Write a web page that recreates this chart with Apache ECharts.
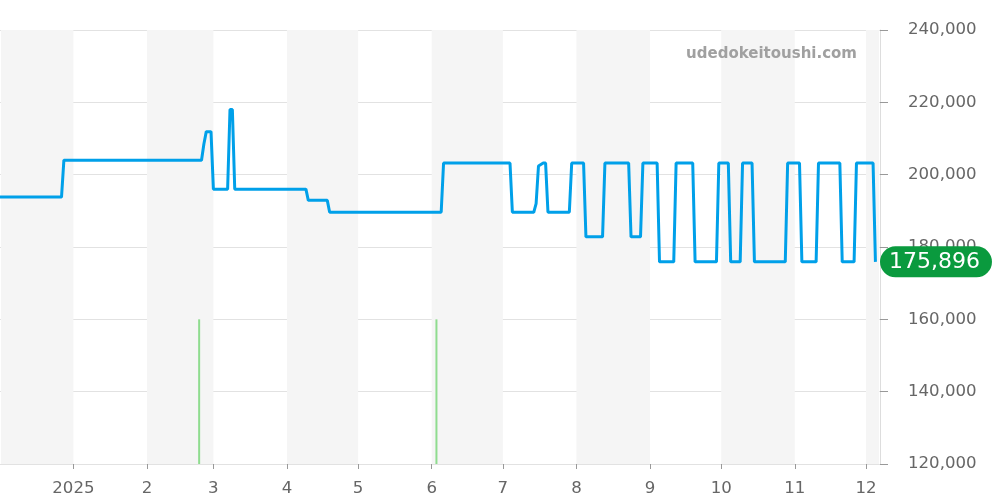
<!DOCTYPE html>
<html>
<head>
<meta charset="utf-8">
<script src="https://cdn.jsdelivr.net/npm/echarts@6/dist/echarts.min.js"></script>
<style>
html,body{margin:0;padding:0;background:#fff;}
#chart{width:1000px;height:500px;}
</style>
</head>
<body>
<div id="chart"></div>
<script>
// Price series (date, JPY)
const priceDates = [
  '2024-12-01','2024-12-27','2024-12-28','2025-02-24','2025-02-25','2025-02-26','2025-02-28',
  '2025-03-01','2025-03-07','2025-03-08','2025-03-09','2025-03-10','2025-04-09','2025-04-10',
  '2025-04-18','2025-04-19','2025-06-05','2025-06-06','2025-07-04','2025-07-05','2025-07-14',
  '2025-07-15','2025-07-16','2025-07-18','2025-07-19','2025-07-20','2025-07-29','2025-07-30',
  '2025-08-04','2025-08-05','2025-08-12','2025-08-13','2025-08-23','2025-08-24','2025-08-28',
  '2025-08-29','2025-09-04','2025-09-05','2025-09-11','2025-09-12','2025-09-19','2025-09-20',
  '2025-09-29','2025-09-30','2025-10-04','2025-10-05','2025-10-09','2025-10-10','2025-10-14',
  '2025-10-15','2025-10-28','2025-10-29','2025-11-03','2025-11-04','2025-11-10','2025-11-11',
  '2025-11-20','2025-11-21','2025-11-26','2025-11-27','2025-12-04','2025-12-05'
];
const priceValues = [
  193800,193800,204000,204000,208500,211900,211900,
  196000,196000,218000,218000,196000,196000,192900,
  192900,189600,189600,203200,203200,189600,189600,
  192000,202400,203200,203200,189600,189600,203200,
  203200,182800,182800,203200,203200,182800,182800,
  203200,203200,175896,175896,203200,203200,175896,
  175896,203200,203200,175896,175896,203200,203200,
  175896,175896,203200,203200,175896,175896,203200,
  203200,175896,175896,203200,203200,175896
];
// Volume markers
const volumeDates = ['2025-02-23','2025-06-03'];
const volumeValues = [1, 1];
// Shaded month bands
const bandStarts = ['2024-12-01T12:00:00','2025-02-01','2025-04-01','2025-06-01','2025-08-01','2025-10-01','2025-12-01'];
const bandEnds   = ['2025-01-01','2025-03-01','2025-05-01','2025-07-01','2025-09-01','2025-11-01','2025-12-06T12:00:00'];
const lastPrice = 175896;
const yTicks = [120000, 140000, 160000, 180000, 200000, 220000, 240000];

const fmt = v => String(v).replace(/\B(?=(\d{3})+(?!\d))/g, ',');

const chart = echarts.init(document.getElementById('chart'), null, {renderer: 'canvas'});
chart.setOption({
  animation: false,
  backgroundColor: '#fff',
  textStyle: {fontFamily: 'DejaVu Sans'},
  grid: {left: 0, right: 120, top: 30, bottom: 36, containLabel: false},
  graphic: [{
    type: 'text', right: 143, top: 47, z: 100,
    style: {text: 'udedokeitoushi.com', fill: '#a0a0a0', font: 'bold 15px "DejaVu Sans"'}
  }],
  xAxis: {
    type: 'time',
    min: '2024-12-01T12:00:00',
    max: '2025-12-06T12:00:00',
    splitNumber: 12,
    minInterval: 28 * 86400000,
    axisLine: {show: false},
    axisTick: {show: true, length: 5, lineStyle: {color: '#999'}},
    splitLine: {show: false},
    axisLabel: {
      color: '#666', fontSize: 16.6, margin: 16, fontFamily: 'DejaVu Sans',
      formatter: function (value) {
        const d = new Date(value);
        return d.getMonth() === 0 ? String(d.getFullYear()) : String(d.getMonth() + 1);
      }
    }
  },
  yAxis: [{
    type: 'value',
    position: 'right',
    min: yTicks[0], max: yTicks[yTicks.length - 1], interval: 20000,
    axisLine: {show: true, lineStyle: {color: '#ddd'}},
    axisTick: {show: true, length: 8, lineStyle: {color: '#999'}},
    splitLine: {show: true, lineStyle: {color: '#e2e2e2'}},
    axisLabel: {color: '#666', fontSize: 16.6, margin: 28, padding: [6, 0, 0, 0], fontFamily: 'DejaVu Sans', formatter: v => fmt(v)}
  }, {
    type: 'value', min: 0, max: 3, show: false
  }],
  series: [{
    type: 'bar',
    yAxisIndex: 1,
    barWidth: 2,
    itemStyle: {color: '#8fdc8f'},
    data: volumeDates.map((d, i) => [d, volumeValues[i]]),
    z: 1
  }, {
    type: 'line',
    data: priceDates.map((d, i) => [d, priceValues[i]]),
    showSymbol: false,
    symbol: 'none',
    lineStyle: {color: '#00a0e9', width: 3},
    z: 3,
    markArea: {
      silent: true,
      itemStyle: {color: '#f5f5f5'},
      data: bandStarts.map((s, i) => [{xAxis: s}, {xAxis: bandEnds[i]}])
    },
    markLine: {
      silent: true,
      symbol: 'none',
      lineStyle: {color: 'rgba(0,0,0,0)', width: 0, type: 'solid'},
      label: {
        show: true, position: 'end', distance: 0,
        formatter: p => fmt(p.value),
        color: '#fff', fontSize: 22, fontFamily: 'DejaVu Sans',
        backgroundColor: '#0a9a3e', borderRadius: 16,
        padding: [5, 12, 4, 9]
      },
      data: [{yAxis: lastPrice}]
    }
  }]
});
</script>
</body>
</html>
